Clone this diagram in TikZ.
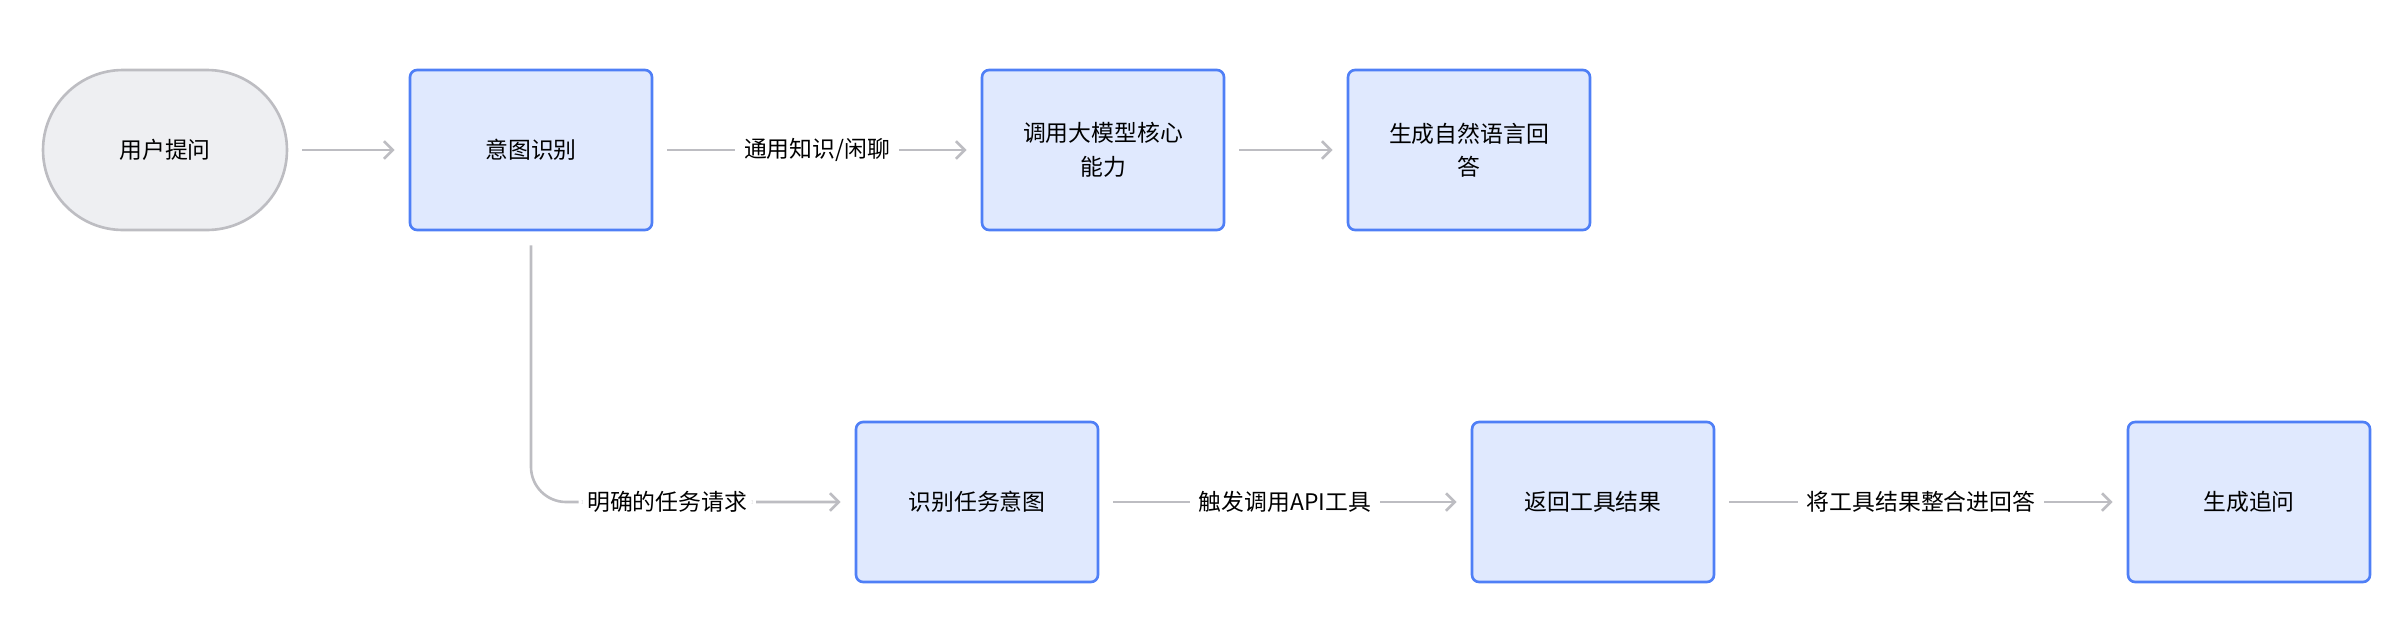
\documentclass[tikz,border=0pt]{standalone}
\usepackage{fontspec}
\setmainfont{Noto Sans CJK SC}
\usetikzlibrary{arrows.meta, positioning}
\definecolor{boxBlue}{HTML}{E0E9FE}
\definecolor{lineBlue}{HTML}{4F7FF6}
\definecolor{startGray}{HTML}{EEEFF2}
\definecolor{edgeGray}{HTML}{BDBDC2}
\tikzset{
  stepbox/.style={draw=lineBlue, fill=boxBlue, line width=1.5pt, rounded corners=4pt,
    minimum width=4.84cm, minimum height=3.2cm, align=center, inner sep=0pt},
  startbox/.style={draw=edgeGray, fill=startGray, line width=1.5pt, rounded corners=1.6cm,
    minimum width=4.88cm, minimum height=3.2cm, inner sep=0pt},
  flow/.style={draw=edgeGray, line width=1.5pt, -{Straight Barb[length=5pt,width=10pt]}},
  tag/.style={fill=white, inner sep=5pt}
}
\begin{document}
\begin{tikzpicture}[x=0.02cm, y=-0.02cm, every node/.style={font=\fontsize{13}{19}\selectfont}]
  \useasboundingbox (0,0) rectangle (2406,640);
  % top row
  \node[startbox] (ask) at (165,150) {用户提问};
  \node[stepbox] (intent) at (531,150) {意图识别};
  \node[stepbox] (core) at (1103,150) {调用大模型核心\\能力};
  \node[stepbox] (answer) at (1469,150) {生成自然语言回\\答};
  % bottom row
  \node[stepbox] (task) at (977,502) {识别任务意图};
  \node[stepbox] (result) at (1593,502) {返回工具结果};
  \node[stepbox] (follow) at (2249,502) {生成追问};

  \draw[flow] ([xshift=8pt]ask.east) -- ([xshift=-8pt]intent.west);
  \draw[flow] ([xshift=8pt]intent.east) -- node[tag] {通用知识/闲聊} ([xshift=-8pt]core.west);
  \draw[flow] ([xshift=8pt]core.east) -- ([xshift=-8pt]answer.west);
  \draw[flow, rounded corners=20pt] ([yshift=-8pt]intent.south) |- node[tag, pos=0.72] {明确的任务请求} ([xshift=-8pt]task.west);
  \draw[flow] ([xshift=8pt]task.east) -- node[tag] {触发调用API工具} ([xshift=-8pt]result.west);
  \draw[flow] ([xshift=8pt]result.east) -- node[tag] {将工具结果整合进回答} ([xshift=-8pt]follow.west);
\end{tikzpicture}
\end{document}
